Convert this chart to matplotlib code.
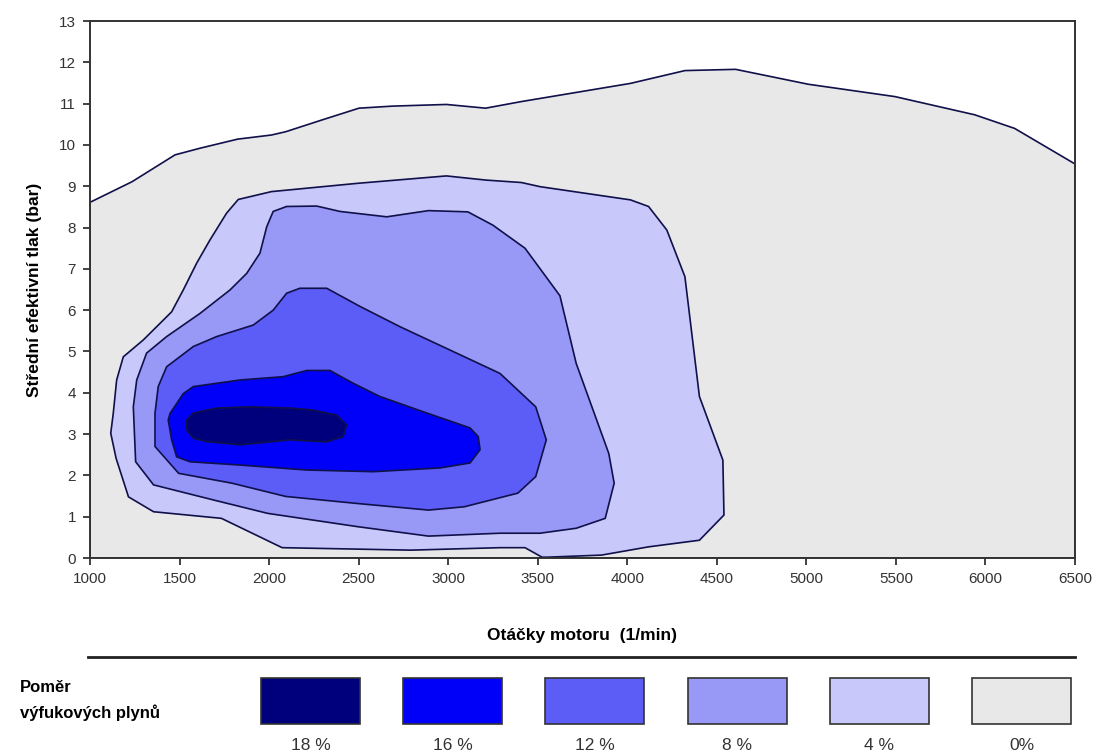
import matplotlib.pyplot as plt
from matplotlib.patches import Rectangle
from matplotlib.lines import Line2D

plt.rcParams['font.family'] = ['Liberation Sans', 'DejaVu Sans']

# Hranice oblastí (otáčky [1/min], střední efektivní tlak [bar])
rpm_0 = [1000, 1235, 1475, 1614, 1824, 2013, 2093, 2292, 2502, 2691, 2990, 3209, 3409,
         4018, 4322, 4605, 5010, 5495, 5940, 6163, 6500, 6500, 1000]
bar_0 = [8.61, 9.11, 9.76, 9.92, 10.14, 10.24, 10.32, 10.60, 10.89, 10.94, 10.98, 10.89, 11.05,
         11.49, 11.80, 11.83, 11.47, 11.17, 10.73, 10.40, 9.54, 0.0, 0.0]

rpm_4 = [1828, 2013, 2492, 2990, 3209, 3409, 3513, 4018, 4119, 4221, 4322,
         4403, 4534, 4540, 4403, 4119, 3856, 3553, 3524, 3429, 3289, 2791, 2073,
         1734, 1355, 1215, 1146, 1116, 1130, 1149, 1186, 1298, 1456, 1521, 1596,
         1670, 1763]
bar_4 = [8.68, 8.87, 9.07, 9.25, 9.15, 9.09, 8.99, 8.67, 8.51, 7.94, 6.81,
         3.91, 2.37, 1.04, 0.43, 0.27, 0.07, 0.02, 0.02, 0.25, 0.25, 0.19, 0.25,
         0.96, 1.12, 1.48, 2.41, 3.02, 3.50, 4.31, 4.87, 5.28, 5.96, 6.49, 7.14,
         7.70, 8.35]

rpm_8 = [2023, 2098, 2266, 2396, 2657, 2890, 3110, 3249, 3429, 3624,
         3715, 3897, 3927, 3877, 3715, 3513, 3289, 2890, 2492, 1993, 1694, 1355,
         1255, 1242, 1261, 1316, 1428, 1614, 1782, 1875, 1949, 1987]
bar_8 = [8.39, 8.51, 8.52, 8.39, 8.26, 8.41, 8.38, 8.06, 7.50, 6.35,
         4.71, 2.53, 1.81, 0.96, 0.72, 0.60, 0.60, 0.53, 0.76, 1.08, 1.40, 1.77,
         2.33, 3.66, 4.31, 4.96, 5.36, 5.92, 6.49, 6.89, 7.38, 8.02]

rpm_12 = [2172, 2322, 2508, 2731, 3289, 3489, 3548, 3489, 3389, 3090, 2890, 2492,
          2093, 1794, 1495, 1363, 1363, 1381, 1428, 1577, 1707, 1912, 2023, 2098]
bar_12 = [6.53, 6.53, 6.09, 5.60, 4.47, 3.66, 2.86, 1.97, 1.57, 1.24, 1.16, 1.32,
          1.49, 1.81, 2.05, 2.70, 3.50, 4.15, 4.63, 5.12, 5.36, 5.64, 6.00, 6.41]

rpm_16 = [1447, 1521, 1577, 1838, 2079, 2210, 2340, 2470, 2619, 2861, 3122, 3168,
          3178, 3122, 2954, 2582, 2210, 1838, 1558, 1484, 1456, 1437]
bar_16 = [3.50, 3.98, 4.15, 4.31, 4.39, 4.54, 4.54, 4.23, 3.91, 3.54, 3.15, 2.94,
          2.62, 2.30, 2.18, 2.09, 2.13, 2.25, 2.33, 2.45, 2.86, 3.34]

rpm_18 = [1540, 1577, 1707, 1893, 2117, 2247, 2377, 2433, 2413, 2322, 2117, 1838,
          1651, 1577, 1540]
bar_18 = [3.34, 3.51, 3.63, 3.66, 3.63, 3.58, 3.46, 3.22, 2.94, 2.81, 2.86, 2.74,
          2.82, 2.90, 3.10]

legend_labels = ['18 %', '16 %', '12 %', '8 %', '4 %', '0%']
colors = ['#00007c', '#0000f8', '#5c5cf6', '#9898f6', '#c8c8fa', '#e8e8e8']

x_ticks = list(range(1000, 6501, 500))
y_ticks = list(range(0, 14))

edge = '#10104a'

fig = plt.figure(figsize=(11.08, 7.56), dpi=100)
ax = fig.add_axes([0.0812, 0.2619, 0.8890, 0.7103])

regions = [(rpm_0, bar_0, colors[5]), (rpm_4, bar_4, colors[4]),
           (rpm_8, bar_8, colors[3]), (rpm_12, bar_12, colors[2]),
           (rpm_16, bar_16, colors[1]), (rpm_18, bar_18, colors[0])]
for xs, ys, c in regions:
    ax.fill(xs, ys, facecolor=c, edgecolor=edge, linewidth=1.2, zorder=2)

ax.set_xlim(1000, 6500)
ax.set_ylim(0, 13)
ax.set_xticks(x_ticks)
ax.set_yticks(y_ticks)
ax.tick_params(direction='out', length=5, width=1.2, colors='#222222',
               labelsize=11, labelcolor='#333333', pad=5)
for s in ax.spines.values():
    s.set_linewidth(1.4)
    s.set_color('#333333')
    s.set_zorder(5)

ax.set_xlabel('Otáčky motoru  (1/min)', fontsize=12.5, fontweight='bold', labelpad=30)
ax.set_ylabel('Střední efektivní tlak (bar)', fontsize=12.5, fontweight='bold', labelpad=12)

# dělicí čára nad legendou
fig.add_artist(Line2D([88 / 1108, 1075 / 1108], [1 - 657 / 756] * 2,
                      transform=fig.transFigure, color='#222222', linewidth=2))

# legenda
fig.text(20 / 1108, 1 - 688 / 756, 'Poměr', fontsize=12, fontweight='bold', va='center')
fig.text(20 / 1108, 1 - 713 / 756, 'výfukových plynů', fontsize=12, fontweight='bold',
         va='center')
box_left = 261
box_step = 142.2
for i, (lab, c) in enumerate(zip(legend_labels, colors)):
    x0 = box_left + i * box_step
    fig.add_artist(Rectangle((x0 / 1108, 1 - 724 / 756), 99 / 1108, 46 / 756,
                             transform=fig.transFigure, facecolor=c,
                             edgecolor='#333333', linewidth=1.2))
    fig.text((x0 + 49.5) / 1108, 1 - 746 / 756, lab, fontsize=12.5, ha='center',
             va='center', color='#333333')

fig.savefig('out.png', dpi=100)
